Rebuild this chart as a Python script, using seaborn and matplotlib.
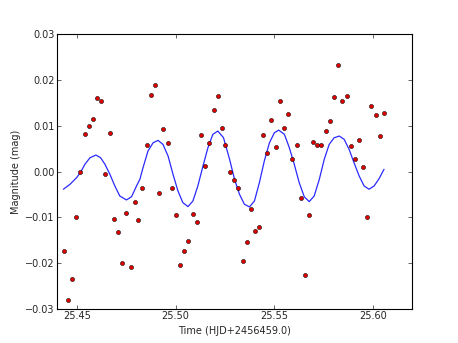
import matplotlib
matplotlib.use("Agg")
import matplotlib.pyplot as plt
import seaborn as sns
import pandas as pd

# observed light curve (time offset from HJD 2456459.0, magnitude)
obs_time = [25.4433, 25.4453, 25.4475, 25.4496, 25.4517, 25.4539, 25.4559, 25.4581,
            25.4601, 25.4623, 25.4643, 25.4665, 25.4686, 25.4706, 25.4728, 25.4749,
            25.4772, 25.4792, 25.4812, 25.4832, 25.4854, 25.4876, 25.4898, 25.4918,
            25.4938, 25.4960, 25.4980, 25.5002, 25.5021, 25.5043, 25.5065, 25.5086,
            25.5107, 25.5128, 25.5151, 25.5171, 25.5193, 25.5213, 25.5233, 25.5253,
            25.5276, 25.5297, 25.5319, 25.5341, 25.5361, 25.5383, 25.5403, 25.5425,
            25.5444, 25.5466, 25.5486, 25.5508, 25.5530, 25.5550, 25.5572, 25.5592,
            25.5614, 25.5634, 25.5656, 25.5677, 25.5698, 25.5718, 25.5740, 25.5762,
            25.5783, 25.5804, 25.5825, 25.5846, 25.5867, 25.5889, 25.5909, 25.5931,
            25.5953, 25.5973, 25.5993, 25.6015, 25.6037, 25.6057]
obs_mag = [-0.0173, -0.0280, -0.0235, -0.0099, 0.0000, 0.0083, 0.0099, 0.0114,
           0.0160, 0.0154, -0.0005, 0.0085, -0.0104, -0.0132, -0.0201, -0.0091,
           -0.0208, -0.0067, -0.0106, -0.0035, 0.0057, 0.0168, 0.0189, -0.0048,
           0.0092, 0.0063, -0.0035, -0.0095, -0.0204, -0.0173, -0.0152, -0.0092,
           -0.0111, 0.0080, 0.0011, 0.0062, 0.0134, 0.0165, 0.0096, 0.0058,
           0.0000, -0.0019, -0.0037, -0.0195, -0.0154, -0.0083, -0.0131, -0.0121,
           0.0080, 0.0041, 0.0112, 0.0053, 0.0154, 0.0095, 0.0126, 0.0028,
           0.0059, -0.0059, -0.0227, -0.0096, 0.0065, 0.0057, 0.0058, 0.0089,
           0.0110, 0.0162, 0.0233, 0.0154, 0.0165, 0.0056, 0.0028, 0.0069,
           0.0010, -0.0099, 0.0143, 0.0124, 0.0077, 0.0128]

# fitted model curve
fit_time = [25.4431, 25.4465, 25.4498, 25.4519, 25.4540, 25.4566, 25.4596, 25.4620,
            25.4642, 25.4667, 25.4692, 25.4717, 25.4751, 25.4777, 25.4802, 25.4819,
            25.4835, 25.4860, 25.4886, 25.4911, 25.4936, 25.4962, 25.4987, 25.5012,
            25.5037, 25.5063, 25.5088, 25.5113, 25.5139, 25.5164, 25.5189, 25.5214,
            25.5243, 25.5274, 25.5299, 25.5324, 25.5349, 25.5375, 25.5400, 25.5425,
            25.5450, 25.5476, 25.5501, 25.5523, 25.5552, 25.5577, 25.5602, 25.5627,
            25.5653, 25.5678, 25.5703, 25.5729, 25.5754, 25.5779, 25.5804, 25.5830,
            25.5855, 25.5880, 25.5905, 25.5931, 25.5956, 25.5981, 25.6007, 25.6032,
            25.6057]
fit_mag = [-0.00388, -0.00279, -0.00135, -0.00011, 0.00157, 0.00301, 0.00360, 0.00301,
           0.00157, -0.00061, -0.00316, -0.00535, -0.00622, -0.00550, -0.00316, -0.00170,
           0.00083, 0.00447, 0.00628, 0.00681, 0.00593, 0.00338, -0.00061, -0.00425,
           -0.00681, -0.00768, -0.00644, -0.00316, 0.00120, 0.00519, 0.00812, 0.00884,
           0.00740, 0.00266, -0.00170, -0.00497, -0.00716, -0.00775, -0.00644, -0.00244,
           0.00229, 0.00628, 0.00847, 0.00905, 0.00812, 0.00519, 0.00157, -0.00244,
           -0.00556, -0.00659, -0.00535, -0.00170, 0.00266, 0.00593, 0.00737, 0.00775,
           0.00703, 0.00484, 0.00192, -0.00098, -0.00316, -0.00388, -0.00316, -0.00157,
           0.00048]

x_ticks = [25.45, 25.50, 25.55, 25.60]
y_ticks = [-0.03, -0.02, -0.01, 0.00, 0.01, 0.02, 0.03]

sns.set_style("ticks", {"xtick.direction": "in", "ytick.direction": "in",
                        "axes.edgecolor": "black"})
plt.rcParams["font.family"] = ["DejaVu Sans"]
plt.rcParams["font.size"] = 7

obs = pd.DataFrame({"time": obs_time, "mag": obs_mag})
fit = pd.DataFrame({"time": fit_time, "mag": fit_mag})

fig, ax = plt.subplots(figsize=(4.58, 3.43), dpi=100)
fig.subplots_adjust(left=0.125, right=0.9, bottom=0.1, top=0.9)

sns.scatterplot(data=obs, x="time", y="mag", ax=ax, color="#dd0000",
                s=9, edgecolor="black", linewidth=0.35, zorder=3)
sns.lineplot(data=fit, x="time", y="mag", ax=ax, color="#2a2aff",
             linewidth=0.9, zorder=2)

ax.set_xlim(25.44, 25.62)
ax.set_ylim(-0.03, 0.03)
ax.set_xticks(x_ticks)
ax.set_yticks(y_ticks)
ax.tick_params(top=True, right=True, length=3, width=0.5, labelsize=7, pad=2)
for s in ax.spines.values():
    s.set_linewidth(0.8)
    s.set_visible(True)
ax.set_xlabel("Time (HJD+2456459.0)", fontsize=7, labelpad=3)
ax.set_ylabel("Magnitude (mag)", fontsize=7, labelpad=3)

plt.savefig("out.png", dpi=100)
